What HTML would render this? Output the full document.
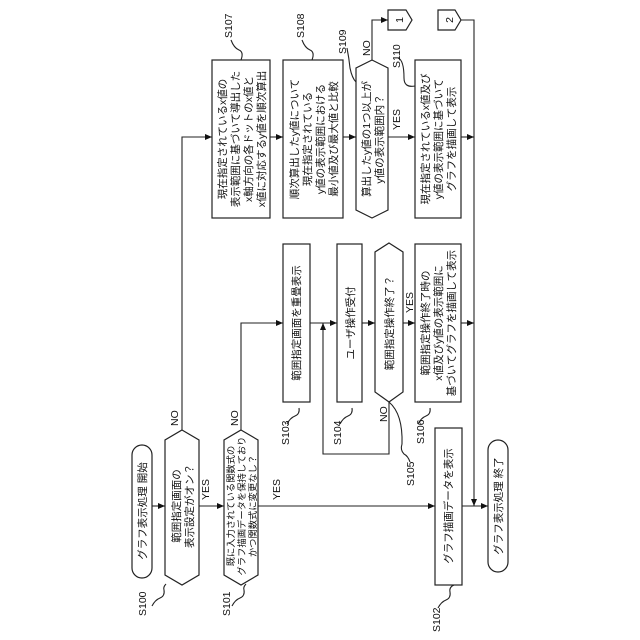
<!DOCTYPE html>
<html><head><meta charset="utf-8"><style>
html,body{margin:0;padding:0;background:#fff}
svg{display:block}
text{font-family:"Liberation Sans","Noto Sans CJK JP",sans-serif;font-size:10.5px;fill:#111}
</style></head><body>
<svg width="640" height="640" viewBox="0 0 640 640" xmlns="http://www.w3.org/2000/svg">
<defs><marker id="a" markerWidth="8" markerHeight="8" refX="7" refY="4" orient="auto" markerUnits="userSpaceOnUse"><path d="M0,1 L7,4 L0,7 z" fill="#111"/></marker></defs>
<g fill="#fff" stroke="#222" stroke-width="1.2">
<rect x="132" y="445" width="20" height="133" rx="10"/>
<path d="M182,430 L199,440 L199,575 L182,585 L165,575 L165,440 z"/>
<path d="M241,430 L258,440 L258,575 L241,585 L224,575 L224,440 z"/>
<rect x="435" y="428" width="27" height="157"/>
<rect x="488" y="440" width="20" height="132" rx="10"/>
<rect x="283" y="244" width="27" height="158"/>
<rect x="337" y="244" width="25" height="158"/>
<path d="M389,243 L403,252 L403,392 L389,402 L375,392 L375,252 z"/>
<rect x="415" y="244" width="46" height="158"/>
<rect x="212" y="60" width="58" height="158"/>
<rect x="283" y="60" width="60" height="158"/>
<path d="M372,60 L388,68 L388,210 L372,218 L356,210 L356,68 z"/>
<rect x="415" y="60" width="46" height="158"/>
<path d="M388,10 L406,10 L412,20 L406,30 L388,30 z"/>
<path d="M438,10 L455,10 L461,20 L455,30 L438,30 z"/>
</g>
<g fill="none" stroke="#222" stroke-width="1.1">
<line x1="152" y1="506" x2="165" y2="506" marker-end="url(#a)"/>
<line x1="199" y1="506" x2="224" y2="506" marker-end="url(#a)"/>
<line x1="258" y1="506" x2="435" y2="506" marker-end="url(#a)"/>
<line x1="462" y1="506" x2="488" y2="506" marker-end="url(#a)"/>
<polyline points="182,430 182,137 212,137" marker-end="url(#a)"/>
<polyline points="241,430 241,323 283,323" marker-end="url(#a)"/>
<line x1="270" y1="137" x2="283" y2="137" marker-end="url(#a)"/>
<line x1="343" y1="137" x2="356" y2="137" marker-end="url(#a)"/>
<line x1="388" y1="137" x2="415" y2="137" marker-end="url(#a)"/>
<polyline points="372,60 372,20 388,20" marker-end="url(#a)"/>
<line x1="310" y1="323" x2="337" y2="323" marker-end="url(#a)"/>
<line x1="362" y1="323" x2="375" y2="323" marker-end="url(#a)"/>
<line x1="403" y1="323" x2="415" y2="323" marker-end="url(#a)"/>
<polyline points="389,402 389,454 323,454 323,323" marker-end="url(#a)"/>
<polyline points="461,20 474,20 474,506" marker-end="url(#a)"/>
<line x1="461" y1="137" x2="474" y2="137" marker-end="url(#a)"/>
<line x1="461" y1="323" x2="474" y2="323" marker-end="url(#a)"/>
<path d="M152,606 q3,-6 8,-8 q5,-2 4,-8 q-1,-3 2,-6"/>
<path d="M232,606 q3,-6 8,-8 q5,-2 4,-8 q-1,-3 2,-6"/>
<path d="M438,608 q3,-6 8,-8 q5,-2 4,-8 q-1,-5 4,-7"/>
<path d="M287,424 q3,-6 8,-8 q5,-2 4,-8"/>
<path d="M340,424 q3,-6 8,-8 q5,-2 4,-8"/>
<path d="M418,424 q3,-6 8,-8 q5,-2 4,-8"/>
<path d="M410,462 q-2,-6 -6,-8 q-4,-4 -2,-10 q1,-30 -13,-42"/>
<path d="M231,40 q3,8 8,10 q5,2 2,10"/>
<path d="M302,40 q3,8 8,10 q5,2 2,10"/>
<path d="M347,48 q2,10 3,20 q2,10 6,14"/>
<path d="M398,58 q6,2 6,20 q0,10 11,8"/>
</g>
<g>
<text transform="translate(146,616) rotate(-90)">S100</text>
<text transform="translate(230,616) rotate(-90)">S101</text>
<text transform="translate(440,632) rotate(-90)">S102</text>
<text transform="translate(289,445) rotate(-90)">S103</text>
<text transform="translate(341,445) rotate(-90)">S104</text>
<text transform="translate(414,486) rotate(-90)">S105</text>
<text transform="translate(424,444) rotate(-90)">S106</text>
<text transform="translate(232,38) rotate(-90)">S107</text>
<text transform="translate(304,38) rotate(-90)">S108</text>
<text transform="translate(346,54) rotate(-90)">S109</text>
<text transform="translate(400,68) rotate(-90)">S110</text>
<text transform="translate(178,426) rotate(-90)">NO</text>
<text transform="translate(238,426) rotate(-90)">NO</text>
<text transform="translate(209,500) rotate(-90)">YES</text>
<text transform="translate(280,500) rotate(-90)">YES</text>
<text transform="translate(413,313) rotate(-90)">YES</text>
<text transform="translate(387,422) rotate(-90)">NO</text>
<text transform="translate(370,56) rotate(-90)">NO</text>
<text transform="translate(400,130) rotate(-90)">YES</text>
</g>
<g text-anchor="middle">
<text transform="translate(142,511) rotate(-90)"><tspan x="0" y="4">グラフ表示処理 開始</tspan></text>
<text transform="translate(182,506) rotate(-90)"><tspan x="0" y="-2">範囲指定画面の</tspan><tspan x="0" y="11">表示設定がオン？</tspan></text>
<text transform="translate(241,506) rotate(-90)" style="font-size:9.3px"><tspan x="0" y="-7">既に入力されている関数式の</tspan><tspan x="0" y="4">グラフ描画データを保持しており</tspan><tspan x="0" y="15">かつ関数式に変更なし？</tspan></text>
<text transform="translate(448,506) rotate(-90)"><tspan x="0" y="4">グラフ描画データを表示</tspan></text>
<text transform="translate(498,506) rotate(-90)"><tspan x="0" y="4">グラフ表示処理 終了</tspan></text>
<text transform="translate(296,323) rotate(-90)"><tspan x="0" y="4">範囲指定画面を重畳表示</tspan></text>
<text transform="translate(350,323) rotate(-90)"><tspan x="0" y="4">ユーザ操作受付</tspan></text>
<text transform="translate(389,323) rotate(-90)"><tspan x="0" y="4">範囲指定操作終了？</tspan></text>
<text transform="translate(438,323) rotate(-90)"><tspan x="0" y="-9">範囲指定操作終了時の</tspan><tspan x="0" y="4">x値及びy値の表示範囲に</tspan><tspan x="0" y="17">基づいてグラフを描画して表示</tspan></text>
<text transform="translate(241,139) rotate(-90)"><tspan x="0" y="-15">現在指定されているx値の</tspan><tspan x="0" y="-2">表示範囲に基づいて導出した</tspan><tspan x="0" y="11">x軸方向の各ドットのx値と</tspan><tspan x="0" y="24">x値に対応するy値を順次算出</tspan></text>
<text transform="translate(313,139) rotate(-90)"><tspan x="0" y="-15">順次算出したy値について</tspan><tspan x="0" y="-2">現在指定されている</tspan><tspan x="0" y="11">y値の表示範囲における</tspan><tspan x="0" y="24">最小値及び最大値と比較</tspan></text>
<text transform="translate(372,139) rotate(-90)"><tspan x="0" y="-2">算出したy値の1つ以上が</tspan><tspan x="0" y="11">y値の表示範囲内？</tspan></text>
<text transform="translate(438,139) rotate(-90)"><tspan x="0" y="-9">現在指定されているx値及び</tspan><tspan x="0" y="4">y値の表示範囲に基づいて</tspan><tspan x="0" y="17">グラフを描画して表示</tspan></text>
<text transform="translate(399,20) rotate(-90)"><tspan x="0" y="4">1</tspan></text>
<text transform="translate(449,20) rotate(-90)"><tspan x="0" y="4">2</tspan></text>
</g>
</svg>
</body></html>
